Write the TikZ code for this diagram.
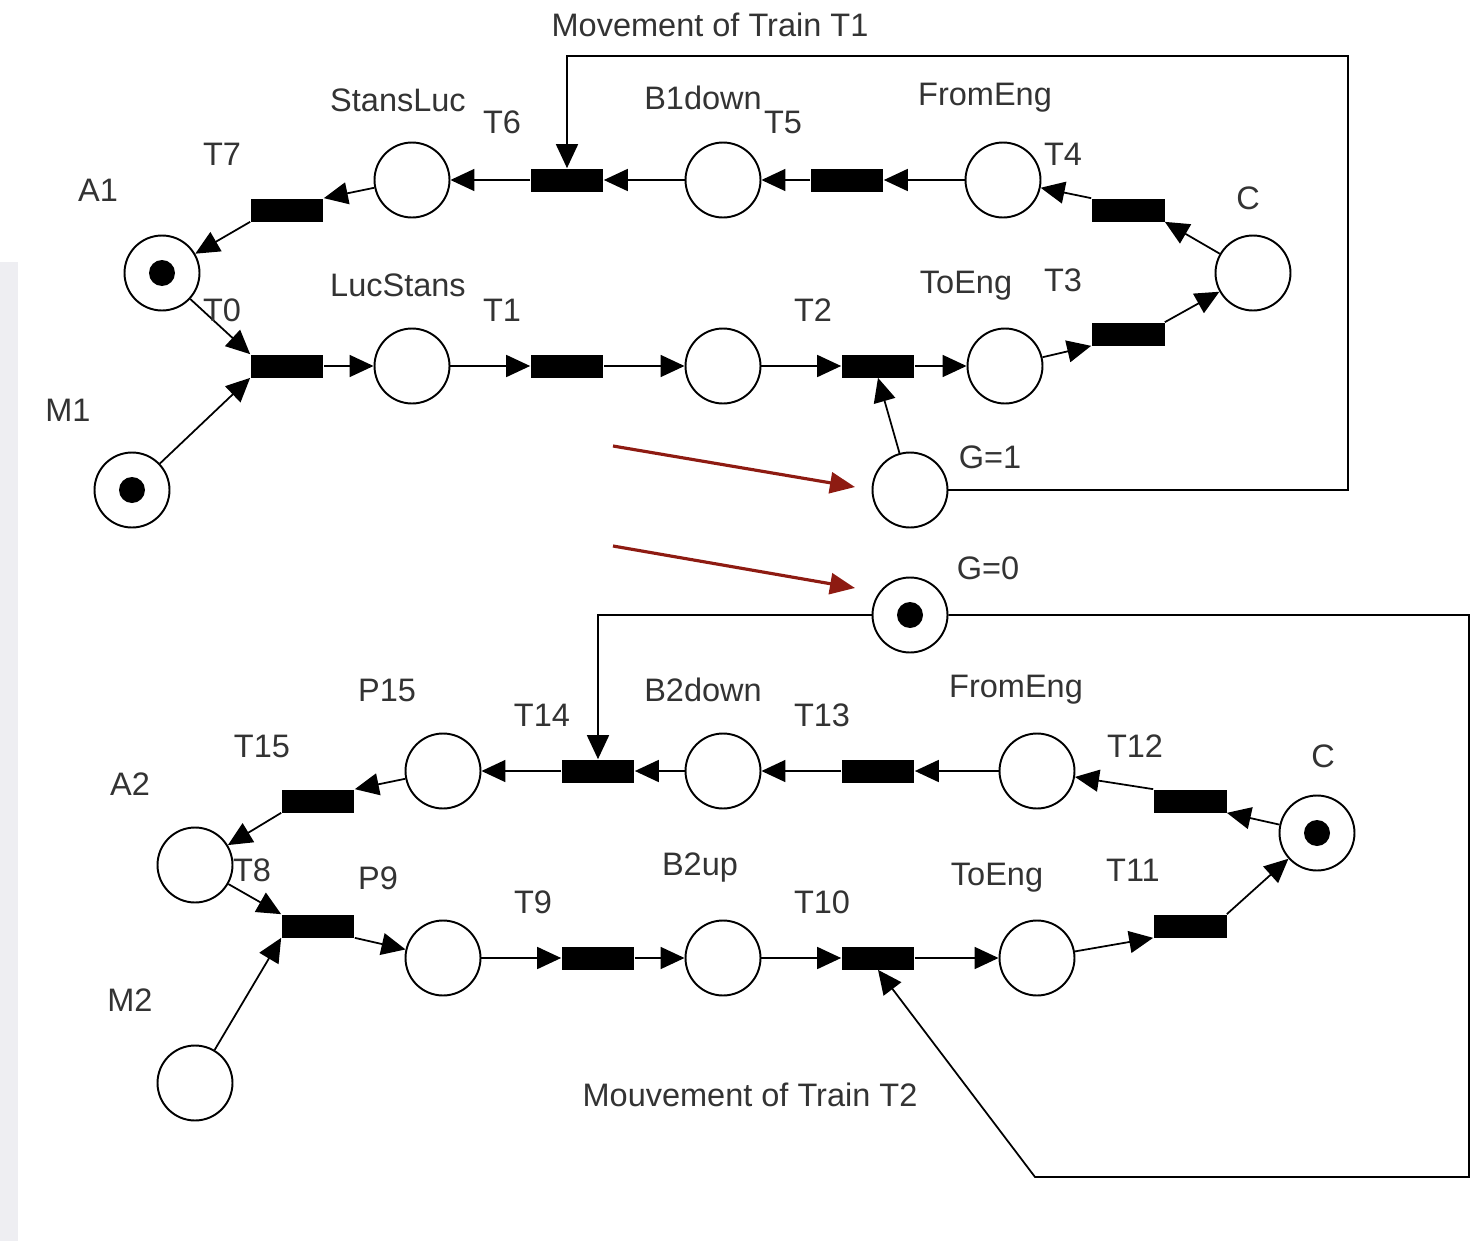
\documentclass[tikz,border=0pt]{standalone}
\usepackage{fontspec}
\setmainfont{Liberation Sans}
\usetikzlibrary{arrows.meta, calc}
\usepackage{xcolor}
\definecolor{pntext}{HTML}{333333}
\definecolor{pnred}{HTML}{8E1B12}
\definecolor{pnstrip}{HTML}{EEEEF2}

\tikzset{
  pnplace/.style={draw, circle, line width=1.1pt, minimum size=1.5cm, inner sep=0pt},
  pnmarked/.style={pnplace, path picture={\fill (path picture bounding box.center) circle (0.26cm);}},
  pntrans/.style={fill=black, minimum width=1.46cm, minimum height=0.46cm, inner sep=0pt},
  pnarc/.style={line width=1pt, -{Triangle[length=0.48cm, width=0.44cm]}},
  pnlabel/.style={text=pntext, inner sep=0pt},
  pnhint/.style={pnred, line width=1.8pt, -{Triangle[length=0.5cm, width=0.42cm]}}
}

\begin{document}
\begin{tikzpicture}[x=0.02cm, y=-0.02cm, font=\fontsize{18.5}{20}\selectfont]
  \useasboundingbox (0,0) rectangle (1472,1241);
  \fill[pnstrip] (0,262) rectangle (18,1241);

  % train T1
  \foreach \x/\y/\n in {412/180/s1, 723/180/b1, 1003/180/f1, 412/366/l1, 723/366/u1,
                        1005/366/e1, 1253/273/c1, 910/490/g1}{
    \node[pnplace] (\n) at (\x,\y) {};
  }
  \foreach \x/\y/\n in {162/273/a1, 132/490/m1}{
    \node[pnmarked] (\n) at (\x,\y) {};
  }
  \foreach \x/\y/\n in {287/366/t0, 567/366/t1, 878/366/t2, 1128/334/t3,
                        1128/210/t4, 847/180/t5, 567/180/t6, 287/210/t7}{
    \node[pntrans] (\n) at (\x,\y) {};
  }
  \foreach \a/\b in {c1/t4.south east, t4.north west/f1, f1/t5, t5/b1, b1/t6, t6/s1,
                     s1/t7.north east, t7.south west/a1, a1/t0.north west, m1/t0.south west,
                     t0/l1, l1/t1, t1/u1, u1/t2, t2/e1, e1/t3.south west, t3.north east/c1,
                     g1/t2.south}{
    \draw[pnarc] (\a) -- (\b);
  }
  \draw[pnarc] (g1.east) -| (1348,56) -| (t6.north);

  % train T2
  \foreach \x/\y/\n in {443/771/p15, 723/771/b2, 1037/771/f2, 443/958/p9, 723/958/u2,
                        1037/958/e2, 195/865/a2, 195/1083/m2}{
    \node[pnplace] (\n) at (\x,\y) {};
  }
  \foreach \x/\y/\n in {1317/833/c2, 910/615/g0}{
    \node[pnmarked] (\n) at (\x,\y) {};
  }
  \foreach \x/\y/\n in {318/926/t8, 598/958/t9, 878/958/t10, 1190/926/t11,
                        1190/801/t12, 878/771/t13, 598/771/t14, 318/801/t15}{
    \node[pntrans] (\n) at (\x,\y) {};
  }
  \foreach \a/\b in {c2/t12.south east, t12.north west/f2, f2/t13, t13/b2, b2/t14, t14/p15,
                     p15/t15.north east, t15.south west/a2, a2/t8.north west, m2/t8.south west,
                     t8.south east/p9, p9/t9, t9/u2, u2/t10, t10/e2, e2/t11.south west,
                     t11.north east/c2}{
    \draw[pnarc] (\a) -- (\b);
  }
  \draw[pnarc] (g0.west) -| (t14.north);
  \draw[pnarc] (g0.east) -| (1469,1177) -- (1035,1177) -- (t10.south);

  % labels
  \foreach \x/\y/\n/\t in {710/25/hd1/Movement of Train T1, 398/100/ls1/StansLuc,
      502/122/lt6/T6, 703/98/lb1/B1down, 783/122/lt5/T5, 985/98/lf1/FromEng,
      1063/154/lt4/T4, 222/154/lt7/T7, 98/190/la1/A1, 1248/198/lc1/C,
      398/285/ll1/LucStans, 502/310/lt1/T1, 813/310/lt2/T2, 966/286/le1/ToEng,
      1063/280/lt3/T3, 222/310/lt0/T0, 68/410/lm1/M1, 990/457/lg1/G=1,
      988/568/lg0/G=0, 387/690/lp15/P15, 542/715/lt14/T14, 703/690/lb2/B2down,
      822/715/lt13/T13, 1016/690/lf2/FromEng, 1135/746/lt12/T12, 1323/756/lc2/C,
      262/746/lt15/T15, 130/784/la2/A2, 378/878/lp9/P9, 252/870/lt8/T8,
      533/902/lt9/T9, 700/868/lu2/B2up, 822/902/lt10/T10, 997/878/le2/ToEng,
      1133/870/lt11/T11, 130/1000/lm2/M2, 750/1095/hd2/Mouvement of Train T2}{
    \node[pnlabel] (\n) at (\x,\y) {\t};
  }

  \coordinate (r1a) at (613,446);
  \coordinate (r1b) at (855,487);
  \coordinate (r2a) at (613,546);
  \coordinate (r2b) at (855,588);
  \draw[pnhint] (r1a) -- (r1b);
  \draw[pnhint] (r2a) -- (r2b);
\end{tikzpicture}
\end{document}
